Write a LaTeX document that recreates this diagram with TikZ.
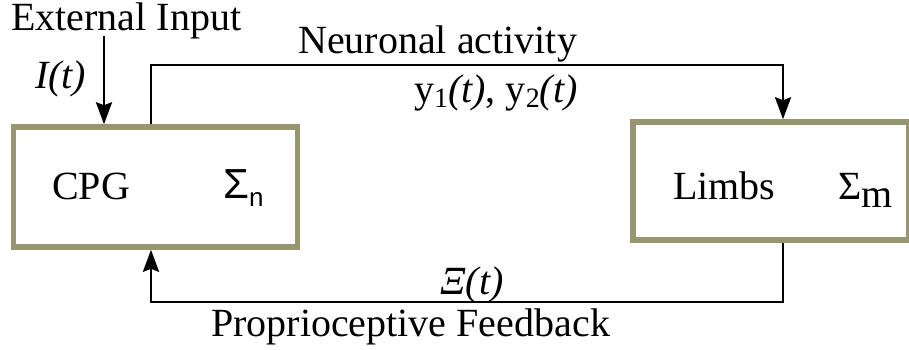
\documentclass[tikz,border=0pt]{standalone}
\usepackage{fontspec}
\setmainfont{Liberation Serif}
\newfontfamily\sansf{Liberation Sans}
\usetikzlibrary{arrows.meta}
\definecolor{boxol}{RGB}{152,150,112}
\begin{document}
\begin{tikzpicture}[x=1pt,y=-1pt,
  blockbox/.style={draw=boxol,line width=5.5pt,rectangle,inner sep=0pt},
  conn/.style={line width=2.8pt,black},
  arr/.style={conn,-{Stealth[length=22pt,width=16pt,inset=3pt]}},
  lbl/.style={inner sep=0pt,anchor=base west,font=\fontsize{40}{48}\selectfont}]
\useasboundingbox (0,0) rectangle (909,349);
\node[blockbox,minimum width=284pt,minimum height=120pt] (cpg) at (155.5,187) {};
\node[blockbox,minimum width=276pt,minimum height=118pt] (limbs) at (771,181) {};
\node[lbl] (cpgt) at (52,199) {CPG};
\node[lbl] (sign) at (223,198) {{\sansf\fontsize{42}{48}\selectfont Σ}\raisebox{-8pt}{\sansf\fontsize{26}{30}\selectfont n}};
\node[lbl] (limbt) at (673,199) {Limbs};
\node[lbl] (sigm) at (838,199) {Σ\raisebox{-8pt}{m}};
\node[lbl] (ext) at (11,30) {External Input};
\node[lbl] (it) at (35,88) {\textit{I(t)}};
\node[lbl] (neur) at (298,53) {Neuronal activity};
\node[lbl] (ys) at (414,102) {y\raisebox{-5pt}{\fontsize{28}{30}\selectfont 1}\textit{(t)}, y\raisebox{-5pt}{\fontsize{28}{30}\selectfont 2}\textit{(t)}};
\node[lbl] (xi) at (440,294) {\textit{Ξ(t)}};
\node[lbl] (prop) at (211,336) {Proprioceptive Feedback};
\coordinate (inp) at (104,36);
\coordinate (tl) at (151,65);
\coordinate (tr) at (783,65);
\coordinate (bl) at (151,302);
\coordinate (br) at (783,302);
\draw[arr] (inp) -- (cpg.north -| inp);
\draw[arr] (cpg.north -| tl) -- (tl) -- (tr) -- (limbs.north -| tr);
\draw[arr] (limbs.south -| br) -- (br) -- (bl) -- (cpg.south -| bl);
\end{tikzpicture}
\end{document}
